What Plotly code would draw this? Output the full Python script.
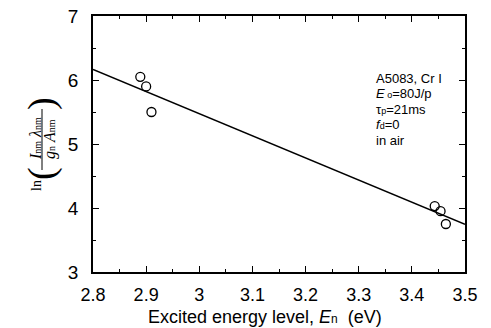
import numpy as np
import plotly.graph_objects as go

# Excited energy level (eV) and Boltzmann-plot ordinate for Cr I lines
energy_ev = [2.889, 2.900, 2.910, 3.443, 3.454, 3.464]
ln_ratio = [6.05, 5.90, 5.50, 4.03, 3.95, 3.75]

x_ticks = [2.8, 2.9, 3.0, 3.1, 3.2, 3.3, 3.4, 3.5]
x_tick_text = ["2.8", "2.9", "3", "3.1", "3.2", "3.3", "3.4", "3.5"]
y_ticks = [3, 4, 5, 6, 7]

condition_lines = [
    "A5083, Cr I",
    "<i>E</i><span style='font-size:9px'> o</span>=80J/p",
    "τ<span style='font-size:9px'>p</span>=21ms",
    "<i>f</i><span style='font-size:9px'>d</span>=0",
    "in air",
]

# least-squares line across the full axis range
slope, intercept = np.polyfit(energy_ev, ln_ratio, 1)
fit_x = np.array([2.8, 3.5])
fit_y = slope * fit_x + intercept

W, H = 491, 328
L, R, T, B = 93, 26, 16, 56
pw, ph = W - L - R, H - T - B


def px(xp):
    return (xp - L) / pw


def py(yp):
    return (H - B - yp) / ph


fig = go.Figure()
fig.add_trace(go.Scatter(x=fit_x, y=fit_y, mode="lines",
                         line=dict(color="black", width=1.6), hoverinfo="skip"))
fig.add_trace(go.Scatter(x=energy_ev, y=ln_ratio, mode="markers",
                         marker=dict(symbol="circle-open", size=9, color="black",
                                     line=dict(width=1.3, color="black"))))

sans = "Liberation Sans, Arial, sans-serif"
axis_common = dict(
    showgrid=False, zeroline=False, showline=True, linecolor="black", linewidth=1.5,
    mirror="allticks", ticks="inside", ticklen=6, tickwidth=1.2, tickcolor="black",
    automargin=False,
)

fig.update_xaxes(range=[2.8, 3.5], tickvals=x_ticks, ticktext=x_tick_text,
                 ticklabelstandoff=6,
                 tickfont=dict(family=sans, size=18, color="black"),
                 minor=dict(dtick=0.05, ticks="inside", ticklen=3, tickcolor="black", tickwidth=1),
                 **axis_common)
fig.update_yaxes(range=[3, 7], tickvals=y_ticks,
                 ticklabelstandoff=9,
                 tickfont=dict(family=sans, size=19, color="black"),
                 minor=dict(dtick=0.5, ticks="inside", ticklen=3, tickcolor="black", tickwidth=1),
                 **axis_common)

annotations = []
for i, line in enumerate(condition_lines):
    annotations.append(dict(
        x=px(374), y=py(78 + i * 15.5), xref="paper", yref="paper",
        text=line, showarrow=False, xanchor="left", yanchor="middle",
        font=dict(family=sans, size=13, color="black"),
    ))

# x-axis title
annotations.append(dict(
    x=px(265), y=py(317), xref="paper", yref="paper", showarrow=False,
    xanchor="center", yanchor="middle",
    text="Excited energy level, <i>E</i><span style='font-size:12px'>n</span>  (eV)",
    font=dict(family=sans, size=18, color="black"),
))

serif = "Liberation Serif, DejaVu Serif, serif"
# rotated y-axis title: ln( I_nm λ_nm / g_n A_nm )
title_parts = [
    dict(x=px(36), y=py(186), text="ln", textangle=-90,
         font=dict(family=serif, size=14, color="black")),
    dict(x=px(41), y=py(174), text="(", textangle=-90,
         font=dict(family=serif, size=38, color="black")),
    dict(x=px(41), y=py(104), text=")", textangle=-90,
         font=dict(family=serif, size=38, color="black")),
    dict(x=px(35), y=py(139),
         text="<i>I</i><span style='font-size:10px'>nm</span> <i>λ</i><span style='font-size:10px'>nm</span>",
         textangle=-90, font=dict(family=serif, size=16, color="black")),
    dict(x=px(50), y=py(139),
         text="<i>g</i><span style='font-size:10px'>n</span> <i>A</i><span style='font-size:10px'>nm</span>",
         textangle=-90, font=dict(family=serif, size=16, color="black")),
]
for a in title_parts:
    a.update(xref="paper", yref="paper", showarrow=False, xanchor="center", yanchor="middle")
annotations += title_parts

fig.update_layout(
    width=W, height=H, margin=dict(l=L, r=R, t=T, b=B),
    paper_bgcolor="white", plot_bgcolor="white", showlegend=False,
    annotations=annotations,
    shapes=[dict(type="line", xref="paper", yref="paper",
                 x0=px(42), x1=px(42), y0=py(109), y1=py(170),
                 line=dict(color="black", width=1))],
)

fig.write_html("out.html")
